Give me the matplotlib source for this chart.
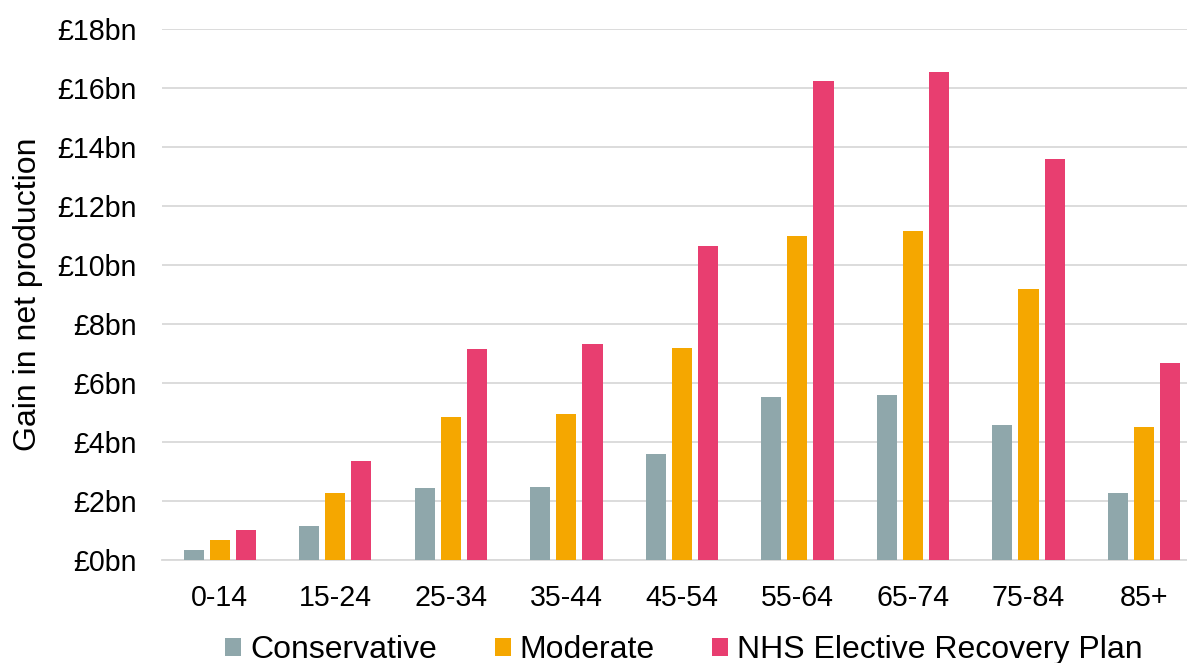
import matplotlib
matplotlib.use("Agg")
import matplotlib.pyplot as plt
import numpy as np

plt.rcParams['font.family'] = ['Liberation Sans', 'DejaVu Sans']

age_groups = ["0-14", "15-24", "25-34", "35-44", "45-54", "55-64", "65-74", "75-84", "85+"]
conservative = [0.34, 1.15, 2.43, 2.47, 3.59, 5.51, 5.58, 4.57, 2.27]
moderate = [0.68, 2.27, 4.84, 4.94, 7.17, 10.99, 11.16, 9.17, 4.52]
nhs_plan = [1.01, 3.35, 7.14, 7.31, 10.66, 16.25, 16.55, 13.60, 6.69]
series_names = ["Conservative", "Moderate", "NHS Elective Recovery Plan"]
colors = ["#8FA7AB", "#F5A700", "#E83E70"]
y_ticks = list(range(0, 19, 2))

W, H = 1187, 663
fig = plt.figure(figsize=(W / 100, H / 100), dpi=100)
ax = fig.add_axes([162 / W, 1 - 560 / H, (W - 162) / W, (560 - 29) / H])

x = np.arange(len(age_groups))
step = 0.226
width = 0.174
for i, (vals, name, c) in enumerate(zip([conservative, moderate, nhs_plan], series_names, colors)):
    ax.bar(x + (i - 1) * step, vals, width=width, color=c, label=name, zorder=3)

ax.set_xlim(-0.5, (W - 220) / 115.5)
ax.set_ylim(0, 18)
ax.set_yticks(y_ticks)
ax.set_yticklabels([f"£{v}bn" for v in y_ticks])
ax.set_xticks(x)
ax.set_xticklabels(age_groups)
ax.yaxis.grid(True, color="#D9D9D9", linewidth=1.3, zorder=0)
ax.tick_params(axis="both", length=0, labelsize=20.6, colors="black")
ax.tick_params(axis="y", pad=18)
ax.tick_params(axis="x", pad=17)
for s in ["top", "right", "left"]:
    ax.spines[s].set_visible(False)
ax.spines["bottom"].set_color("#D9D9D9")
ax.spines["bottom"].set_linewidth(1.3)

ax.set_ylabel("Gain in net production", fontsize=23)
ax.yaxis.set_label_coords(-(162 - 43) / (W - 162), 0.5)

fig.legend(loc="center", bbox_to_anchor=(684 / W, 1 - 650 / H), ncol=3, frameon=False,
           fontsize=23, handlelength=0.5, handleheight=0.5, handletextpad=0.28,
           columnspacing=1.8, borderpad=0, borderaxespad=0)

fig.savefig("out.png", dpi=100)
